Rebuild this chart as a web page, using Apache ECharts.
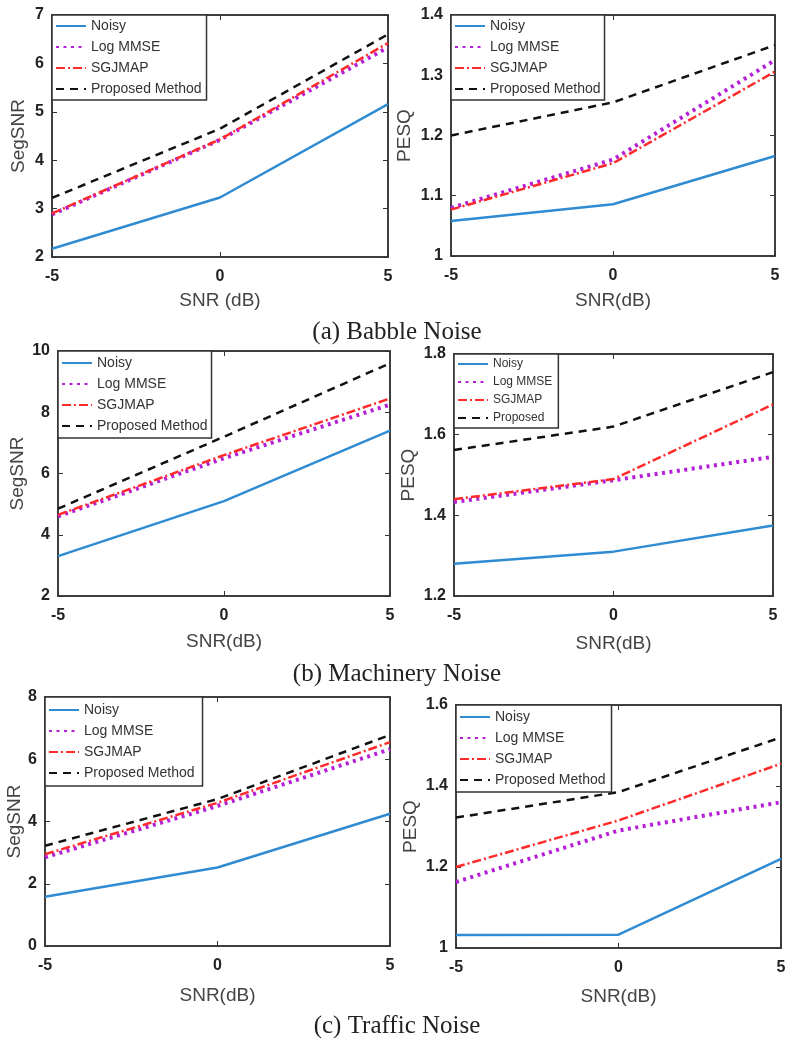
<!DOCTYPE html>
<html>
<head>
<meta charset="utf-8">
<script src="https://cdn.jsdelivr.net/npm/echarts@6/dist/echarts.min.js"></script>
<style>
  html, body { margin: 0; padding: 0; background: #fff; }
  #chart { width: 794px; height: 1050px; }
</style>
</head>
<body>
<div id="chart"></div>
<script>
// ---------- data ----------
const snr = [-5, 0, 5];
const seriesNames = ['Noisy', 'Log MMSE', 'SGJMAP', 'Proposed Method'];
const seriesNamesMachPesq = ['Noisy', 'Log MMSE', 'SGJMAP', 'Proposed'];

// (a) Babble noise
const babbleSegNoisy    = [2.17, 3.23, 5.16];
const babbleSegLogMMSE  = [2.88, 4.42, 6.33];
const babbleSegSGJMAP   = [2.90, 4.43, 6.42];
const babbleSegProposed = [3.22, 4.65, 6.60];

const babblePesqNoisy    = [1.058, 1.086, 1.166];
const babblePesqLogMMSE  = [1.080, 1.160, 1.325];
const babblePesqSGJMAP   = [1.077, 1.154, 1.306];
const babblePesqProposed = [1.200, 1.255, 1.350];

// (b) Machinery noise
const machSegNoisy    = [3.30, 5.10, 7.40];
const machSegLogMMSE  = [4.60, 6.50, 8.25];
const machSegSGJMAP   = [4.65, 6.60, 8.45];
const machSegProposed = [4.85, 7.20, 9.60];

const machPesqNoisy    = [1.280, 1.310, 1.375];
const machPesqLogMMSE  = [1.433, 1.487, 1.545];
const machPesqSGJMAP   = [1.440, 1.490, 1.675];
const machPesqProposed = [1.562, 1.620, 1.755];

// (c) Traffic noise
const trafSegNoisy    = [1.58, 2.52, 4.25];
const trafSegLogMMSE  = [2.85, 4.50, 6.32];
const trafSegSGJMAP   = [2.95, 4.60, 6.55];
const trafSegProposed = [3.22, 4.72, 6.78];

const trafPesqNoisy    = [1.032, 1.033, 1.220];
const trafPesqLogMMSE  = [1.163, 1.290, 1.360];
const trafPesqSGJMAP   = [1.200, 1.315, 1.455];
const trafPesqProposed = [1.322, 1.385, 1.520];

// axis ranges
const yRanges = [
  {min: 2, max: 7, interval: 1},
  {min: 1, max: 1.4, interval: 0.1},
  {min: 2, max: 10, interval: 2},
  {min: 1.2, max: 1.8, interval: 0.2},
  {min: 0, max: 8, interval: 2},
  {min: 1, max: 1.6, interval: 0.2}
];
const yTitles = ['SegSNR', 'PESQ', 'SegSNR', 'PESQ', 'SegSNR', 'PESQ'];
const xTitles = ['SNR (dB)', 'SNR(dB)', 'SNR(dB)', 'SNR(dB)', 'SNR(dB)', 'SNR(dB)'];
const captions = ['(a) Babble Noise', '(b) Machinery Noise', '(c) Traffic Noise'];

const panelData = [
  [babbleSegNoisy, babbleSegLogMMSE, babbleSegSGJMAP, babbleSegProposed],
  [babblePesqNoisy, babblePesqLogMMSE, babblePesqSGJMAP, babblePesqProposed],
  [machSegNoisy, machSegLogMMSE, machSegSGJMAP, machSegProposed],
  [machPesqNoisy, machPesqLogMMSE, machPesqSGJMAP, machPesqProposed],
  [trafSegNoisy, trafSegLogMMSE, trafSegSGJMAP, trafSegProposed],
  [trafPesqNoisy, trafPesqLogMMSE, trafPesqSGJMAP, trafPesqProposed]
];
const panelNames = [seriesNames, seriesNames, seriesNames, seriesNamesMachPesq, seriesNames, seriesNames];

// ---------- layout / style ----------
const grids = [
  {left: 52,  top: 15,  width: 336, height: 242},
  {left: 451, top: 15,  width: 324, height: 241},
  {left: 58,  top: 351, width: 332, height: 245},
  {left: 454, top: 354, width: 319, height: 242},
  {left: 45,  top: 697, width: 345, height: 249},
  {left: 456, top: 705, width: 325, height: 243}
];
const yNameGaps = [24, 37, 31, 36, 18, 36];
const xNameGaps = [34, 35, 36, 38, 40, 39];
const legendBoxes = [
  {left: 52,  top: 15,  pad: [4, 5, 4, 3], font: 14, gap: 7, ih: 14},
  {left: 451, top: 15,  pad: [4, 4, 4, 3], font: 14, gap: 7, ih: 14},
  {left: 58,  top: 351, pad: [5, 4, 5, 3], font: 14, gap: 7, ih: 14},
  {left: 454, top: 354, pad: [4, 6, 4, 3], font: 12, gap: 6, ih: 12},
  {left: 45,  top: 697, pad: [6, 8, 6, 3], font: 14, gap: 7, ih: 14},
  {left: 456, top: 705, pad: [5, 6, 5, 3], font: 14, gap: 7, ih: 14}
];
const captionTops = [320, 662, 1014];

const lineStyles = [
  {color: '#2f8bd2', width: 2.5, type: 'solid'},
  {color: '#b51fd6', width: 4, type: [3, 4.5]},
  {color: '#ff2a2a', width: 2.5, type: [9, 3, 2, 3]},
  {color: '#111111', width: 2.5, type: [8, 6]}
];

const grid = [], xAxis = [], yAxis = [], series = [], legend = [], title = [];
const axisColor = '#333';
for (let i = 0; i < 6; i++) {
  grid.push(Object.assign({show: true, borderColor: axisColor, borderWidth: 1.5, backgroundColor: '#fff'}, grids[i]));
  const yr = yRanges[i];
  const common = {
    gridIndex: i, type: 'value', splitLine: {show: false},
    axisLine: {show: true, onZero: false, lineStyle: {color: axisColor, width: 1.5}},
    axisTick: {show: true, inside: true, length: 5, lineStyle: {color: axisColor, width: 1}}
  };
  xAxis.push(Object.assign({}, common, {
    position: 'bottom', min: -5, max: 5, interval: 5,
    axisLabel: {show: true, margin: 12, fontSize: 16, fontWeight: 'bold', color: '#222', fontFamily: 'Liberation Sans'},
    name: xTitles[i], nameLocation: 'middle', nameGap: xNameGaps[i],
    nameTextStyle: {fontSize: 19, color: '#444', fontFamily: 'Liberation Sans'}
  }));
  xAxis.push(Object.assign({}, common, {
    position: 'top', min: -5, max: 5, interval: 5, axisLabel: {show: false}
  }));
  yAxis.push(Object.assign({}, common, {
    position: 'left', min: yr.min, max: yr.max, interval: yr.interval,
    axisLabel: {show: true, margin: 8, fontSize: 16, fontWeight: 'bold', color: '#222', fontFamily: 'Liberation Sans'},
    name: yTitles[i], nameLocation: 'middle', nameGap: yNameGaps[i],
    nameTextStyle: {fontSize: 19, color: '#444', fontFamily: 'Liberation Sans'}
  }));
  yAxis.push(Object.assign({}, common, {
    position: 'right', min: yr.min, max: yr.max, interval: yr.interval, axisLabel: {show: false}
  }));
  for (let s = 0; s < 4; s++) {
    series.push({
      type: 'line', name: panelNames[i][s],
      xAxisIndex: 2 * i, yAxisIndex: 2 * i,
      symbol: 'none', animation: false,
      lineStyle: lineStyles[s], itemStyle: {color: lineStyles[s].color},
      data: snr.map((x, k) => [x, panelData[i][s][k]])
    });
  }
  const lb = legendBoxes[i];
  legend.push({
    orient: 'vertical', left: lb.left, top: lb.top, padding: lb.pad,
    itemGap: lb.gap, itemWidth: 30, itemHeight: lb.ih,
    backgroundColor: '#fff', borderColor: '#333', borderWidth: 1.5, borderRadius: 0,
    itemStyle: {opacity: 0},
    textStyle: {fontSize: lb.font, color: '#333', fontFamily: 'Liberation Sans'},
    data: panelNames[i], selectedMode: false
  });
}
for (let c = 0; c < 3; c++) {
  title.push({
    text: captions[c], left: 'center', top: captionTops[c], padding: 0,
    textStyle: {fontFamily: 'Liberation Serif', fontSize: 25, fontWeight: 'normal', color: '#222'}
  });
}

const chart = echarts.init(document.getElementById('chart'), null, {renderer: 'canvas'});
chart.setOption({
  backgroundColor: '#fff', animation: false,
  title, grid, xAxis, yAxis, series, legend
});
</script>
</body>
</html>
